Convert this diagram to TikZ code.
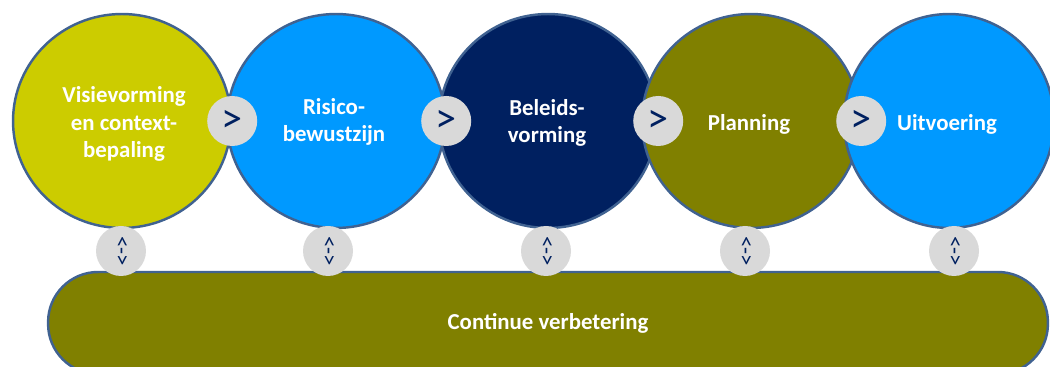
\documentclass[tikz,border=0pt]{standalone}
\usepackage{fontspec}
\setmainfont{Carlito}
\usetikzlibrary{shapes.geometric}
\definecolor{lime}{RGB}{204,204,0}
\definecolor{sky}{RGB}{0,153,255}
\definecolor{navy}{RGB}{0,32,96}
\definecolor{olive}{RGB}{128,128,0}
\definecolor{rim}{RGB}{64,98,145}
\definecolor{knob}{RGB}{217,217,217}
\begin{document}
\begin{tikzpicture}[x=0.02cm,y=0.02cm,
    phase/.style ={ellipse, draw=rim, line width=1.4pt, inner sep=0pt, minimum width=4.36cm, minimum height=4.28cm},
    label/.style ={text=white, font=\fontsize{13}{15.5}\selectfont\bfseries, align=center},
    next/.style ={circle, fill=knob, inner sep=0pt, minimum size=1cm, text=navy, font=\fontsize{24}{24}\selectfont},
    link/.style ={circle, fill=knob, inner sep=0pt, minimum size=1cm, text=navy, font=\fontsize{13}{13}\selectfont}]
   \clip (0,0) rectangle (1050,367);
   % bottom bar
   \node[draw=rim, line width=1.4pt, fill=olive, rounded corners=1cm, minimum width=20cm, minimum height=2.04cm, label] (verbeter) at (548,44) {Continue verbetering};
   % phases
   \node[phase, fill=lime] (visie) at (122,246) {};
   \node[phase, fill=sky] (risico) at (336,246) {};
   \node[phase, fill=navy] (beleid) at (548,246) {};
   \node[phase, fill=olive] (planning) at (751,246) {};
   \node[phase, fill=sky, minimum width=4.2cm] (uitvoer) at (949,246) {};
   \node[label] at (124,243) {Visievorming\\en context-\\bepaling};
   \node[label] at (334,245) {Risico-\\bewustzijn};
   \node[label] at (547,244) {Beleids-\\vorming};
   \node[label] at (749,243) {Planning};
   \node[label] at (947,243) {Uitvoering};
   % steps
   \node[next] (n1) at (visie.east) {\raisebox{-2pt}{>}};
   \node[next] (n2) at (risico.east) {\raisebox{-2pt}{>}};
   \node[next] (n3) at (beleid.east) {\raisebox{-2pt}{>}};
   \node[next] (n4) at (planning.east) {\raisebox{-2pt}{>}};
   % links to the bar
   \foreach \x [count=\i] in {121,328,546,745,954}
     \node[link] (v\i) at (\x,116) {\rotatebox{-90}{<->}};
\end{tikzpicture}
\end{document}
